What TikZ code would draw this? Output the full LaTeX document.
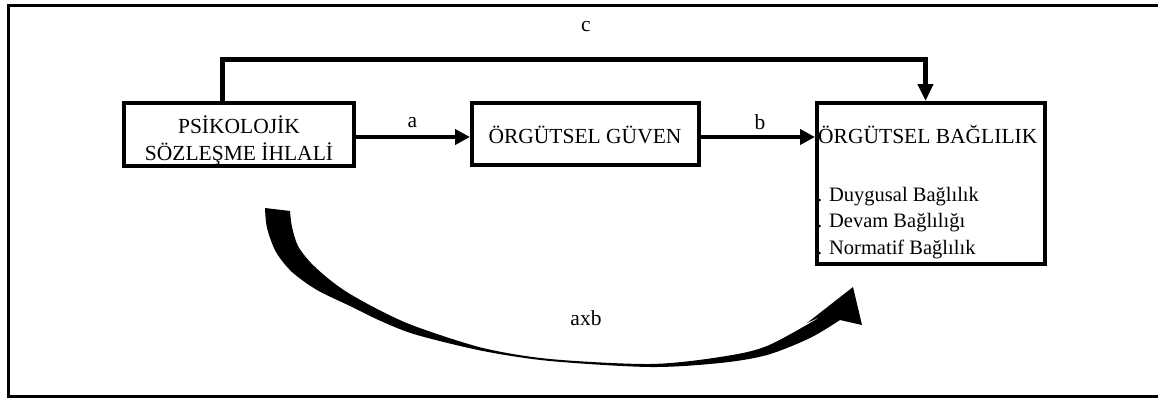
\documentclass[tikz,border=0pt]{standalone}
\usepackage{fontspec}
\setmainfont{Liberation Serif}
\usetikzlibrary{arrows.meta}
\begin{document}
\begin{tikzpicture}[x=1pt,y=-1pt,
  box/.style={draw,line width=4pt,inner sep=0pt},
  conn/.style={line width=4.5pt,-{Triangle[length=15pt,width=15pt]}},
  lbl/.style={inner sep=0pt,anchor=base,font=\fontsize{21.5}{26}\selectfont},
  item/.style={inner sep=0pt,anchor=base west,font=\fontsize{20.5}{25}\selectfont}]
\useasboundingbox (0,0) rectangle (1158,399);
\begin{scope}
\clip (0,0) rectangle (1158,399);
% outer frame, open to the right
\draw[line width=3pt] (1170,5) -- (8,5) -- (8,396) -- (1170,396);

% boxes
\node[box,minimum width=230pt,minimum height=63pt] (psk) at (239,134.5) {};
\node[box,minimum width=227pt,minimum height=62pt] (guv) at (585.5,134) {};
\node[box,minimum width=228pt,minimum height=161pt] (bag) at (931,183.5) {};

% box texts
\node[lbl] (psk1) at (239,133) {PSİKOLOJİK};
\node[lbl] (psk2) at (239,160.5) {SÖZLEŞME İHLALİ};
\node[lbl] (guvt) at (585,143) {ÖRGÜTSEL GÜVEN};
\node[lbl,anchor=base west] (bagt) at (818,143) {ÖRGÜTSEL BAĞLILIK};
\node[item] (d1) at (817,201) {. Duygusal Bağlılık};
\node[item] (d2) at (817,227) {. Devam Bağlılığı};
\node[item] (d3) at (817,254) {. Normatif Bağlılık};

% direct paths
\draw[conn] ([yshift=-2.5pt]psk.east) -- ([yshift=-2.5pt]psk.east -| guv.west);
\draw[conn] ([yshift=-3pt]guv.east) -- ([yshift=-3pt]guv.east -| bag.west);
\coordinate (ctop) at (500,59.5);
\draw[line width=4.5pt,-{Triangle[length=17pt,width=15pt]}]
  ([xshift=-16.5pt]psk.north) |- (ctop) -| ([xshift=-5.5pt]bag.north);

\node[lbl] (la) at (412.5,127) {a};
\node[lbl] (lb) at (760,129) {b};
\node[lbl] (lc) at (586,31) {c};

% curved indirect path (a x b), tapering block arrow
\fill plot[smooth] coordinates {(265,208) (267,228) (276,252) (292,272) (317,290) (350,306) (383,322) (417,335) (483,351) (550,361) (650,367) (720,363) (767,355) (810,338) (840,320)}
  -- (862,325) -- (853,287) -- (807,323) --
  plot[smooth] coordinates {(822,316) (767,346) (720,357) (650,364) (550,359) (483,348) (417,327) (383,312) (350,294) (330,280) (311,263) (298,246) (292,227) (290,211)}
  -- cycle;
\node[lbl] (lab) at (586,325) {axb};
\end{scope}
\end{tikzpicture}
\end{document}
